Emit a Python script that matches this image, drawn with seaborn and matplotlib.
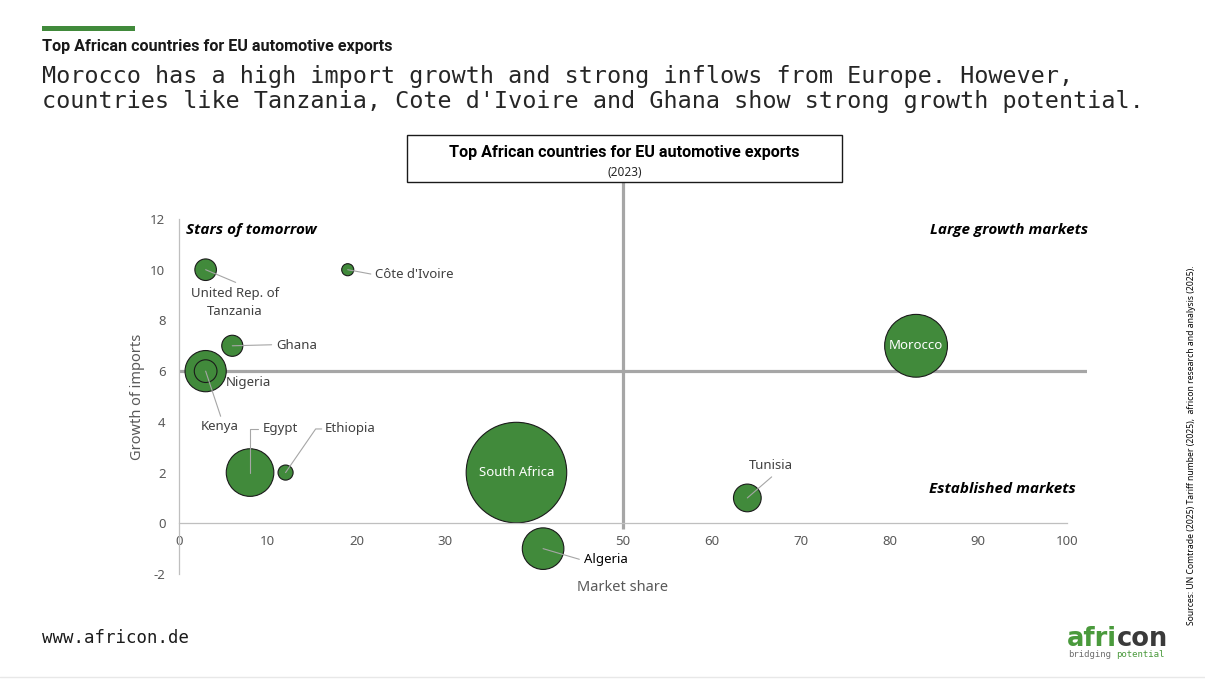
import pandas as pd
import seaborn as sns
import matplotlib
matplotlib.use('Agg')
from matplotlib import pyplot as plt
from matplotlib.patches import Rectangle
from matplotlib.lines import Line2D

countries = ['South Africa', 'Morocco', 'Egypt', 'Nigeria', 'Algeria', 'Tunisia',
             'United Rep. of Tanzania', 'Kenya', 'Ghana', 'Ethiopia', "Côte d'Ivoire"]
market_share = [38, 83, 8, 3, 41, 64, 3, 3, 6, 12, 19]
import_growth = [2, 7, 2, 6, -1, 1, 10, 6, 7, 2, 10]
export_volume = [100, 39, 22.4, 16.8, 17.1, 7.6, 4.6, 5.1, 4.4, 2.25, 1.44]
x_ticks = list(range(0, 101, 10))
y_ticks = list(range(-2, 13, 2))

df = pd.DataFrame(dict(country=countries, share=market_share,
                       growth=import_growth, volume=export_volume))

green = '#418a3b'
grey_txt = '#595959'
W, H = 1205, 680


def fx(p):
    return p / W


def fy(p):
    return 1 - p / H


sns.set_theme(style='white')
plt.rcParams['font.family'] = ['Noto Sans', 'DejaVu Sans']
plt.rcParams['axes.unicode_minus'] = False
mono = ['DejaVu Sans Mono']

fig = plt.figure(figsize=(W / 100, H / 100), dpi=100)
ax = fig.add_axes([fx(179), fy(574), 908 / W, 355 / H])
ax.set_xlim(0, 102.25)
ax.set_ylim(-2, 12)

# quadrant lines
ax.plot([0, 102.25], [6, 6], color='#a6a6a6', lw=2.3, zorder=0.8,
        solid_capstyle='butt')
ax.plot([50, 50], [-0.24, 13.45], color='#a6a6a6', lw=2.3, zorder=0.8,
        clip_on=False, solid_capstyle='butt')

sns.scatterplot(data=df, x='share', y='growth', size='volume',
                sizes=(0, 5240), size_norm=(0, 100), color=green,
                edgecolor='#1a1a1a', linewidth=0.8, legend=False,
                ax=ax, zorder=1, clip_on=False)

# spines / ticks, excel look
for s in ['top', 'right']:
    ax.spines[s].set_visible(False)
for s in ['left', 'bottom']:
    ax.spines[s].set_color('#bfbfbf')
    ax.spines[s].set_linewidth(0.9)
ax.spines['bottom'].set_position(('data', 0))
ax.spines['bottom'].set_bounds(0, 100)
ax.set_xticks(x_ticks)
ax.set_yticks(y_ticks)
ax.tick_params(axis='both', direction='out', color='#bfbfbf', length=4.3,
               width=0.9, labelcolor=grey_txt, labelsize=9.5)
ax.tick_params(axis='y', pad=5.5)
ax.tick_params(axis='x', pad=4)
ax.set_xlabel('Market share', fontsize=10.5, color=grey_txt)
ax.set_ylabel('Growth of imports', fontsize=10.5, color=grey_txt)
ax.xaxis.set_label_coords(444 / 908, -6 / 355)
ax.yaxis.set_label_coords(-34 / 908, 0.5)

# bubble labels: text, position, alignment, leader line points
label_layout = {
    'United Rep. of Tanzania': ('United Rep. of\nTanzania', (6.31, 8.70), 'center', [(6.38, 9.50)]),
    "Côte d'Ivoire": ("Côte d'Ivoire", (22.07, 9.83), 'left', [(21.6, 9.83)]),
    'Ghana': ('Ghana', (10.9, 7.0), 'left', [(10.43, 7.04)]),
    'Nigeria': ('Nigeria', (5.25, 5.54), 'left', []),
    'Kenya': ('Kenya', (4.62, 3.80), 'center', [(4.69, 4.22)]),
    'Egypt': ('Egypt', (9.42, 3.72), 'left', [(8.0, 3.72), (8.86, 3.72)]),
    'Ethiopia': ('Ethiopia', (16.44, 3.72), 'left', [(15.39, 3.72), (16.07, 3.72)]),
    'Algeria': ('Algeria', (45.6, -1.42), 'left', [(45.08, -1.42)]),
    'Tunisia': ('Tunisia', (66.7, 2.26), 'center', [(66.74, 1.83)]),
}
for _, row in df.iterrows():
    name = row['country']
    if name in label_layout:
        txt, (lx, ly), ha, leader = label_layout[name]
        if leader:
            xs = [row['share']] + [p[0] for p in leader]
            ys = [row['growth']] + [p[1] for p in leader]
            ax.plot(xs, ys, color='#a6a6a6', lw=0.8, zorder=3, clip_on=False)
        ax.text(lx, ly, txt, ha=ha, va='center', fontsize=9.5,
                color='black' if name == 'Algeria' else '#404040',
                linespacing=1.45, zorder=4, clip_on=False)
    else:
        ax.text(row['share'], row['growth'], name, ha='center', va='center',
                fontsize=9.5, color='white', zorder=4)

# quadrant captions
quad = dict(fontsize=11, weight='bold', style='italic', color='black',
            va='center', family=['Open Sans', 'DejaVu Sans'])
fig.text(fx(186), fy(230), 'Stars of tomorrow', ha='left', **quad)
fig.text(fx(1088), fy(230), 'Large growth markets', ha='right', **quad)
fig.text(fx(1076), fy(489), 'Established markets', ha='right', **quad)

# chart title box
fig.add_artist(Rectangle((fx(407), fy(182.3)), (841.7 - 407) / W, (182.3 - 135.3) / H,
                         transform=fig.transFigure, fill=False,
                         edgecolor='#1a1a1a', lw=1))
fig.text(fx(624.5), fy(157.5), 'Top African countries for EU automotive exports',
         ha='center', va='baseline', fontsize=11.6, weight='bold',
         family=['Roboto', 'DejaVu Sans'], color='black')
fig.text(fx(624.5), fy(172.5), '(2023)', ha='center', va='center',
         fontsize=8.5, color='#262626')

# page header
fig.add_artist(Rectangle((fx(42), fy(31)), 93 / W, 5 / H,
                         transform=fig.transFigure, color=green, lw=0))
fig.text(fx(42), fy(51), 'Top African countries for EU automotive exports',
         ha='left', va='baseline', fontsize=11.6, weight='bold',
         family=['Roboto', 'DejaVu Sans'], color='#1a1a1a')
fig.text(fx(42), fy(83), 'Morocco has a high import growth and strong inflows from Europe. However,',
         ha='left', va='baseline', fontsize=16.8, family=mono, color='#262626')
fig.text(fx(42), fy(108), "countries like Tanzania, Cote d'Ivoire and Ghana show strong growth potential.",
         ha='left', va='baseline', fontsize=16.8, family=mono, color='#262626')

# footer
fig.text(fx(42), fy(643), 'www.africon.de', ha='left', va='baseline',
         fontsize=12.5, family=mono, color='#1a1a1a')
fig.text(fx(1192), fy(445),
         'Sources: UN Comtrade (2025) Tariff number (2025),  africon research and analysis (2025).',
         rotation=90, ha='center', va='center', fontsize=6.2, color='black')
fig.add_artist(Line2D([0, 1], [fy(677), fy(677)], transform=fig.transFigure,
                      color='#e8e8e8', lw=1))

# logo
t1 = fig.text(fx(1067), fy(646), 'afri', ha='left', va='baseline', fontsize=18.5,
              weight='bold', family=['DejaVu Sans'], color='#4a9a3c')
ax.annotate('con', xy=(1, 0), xycoords=t1, ha='left', va='bottom', fontsize=18.5,
            weight='bold', family=['DejaVu Sans'], color='#3a3a3a',
            annotation_clip=False)
t2 = fig.text(fx(1068), fy(657), 'bridging', ha='left', va='baseline',
              fontsize=6.5, family=mono, color='#707070')
ax.annotate('potential', xy=(1, 0), xycoords=t2, xytext=(3.5, 0),
            textcoords='offset points', ha='left', va='bottom', fontsize=6.5,
            family=mono, color='#4a9a3c', annotation_clip=False)

plt.savefig('out.png', dpi=100)
plt.close()
